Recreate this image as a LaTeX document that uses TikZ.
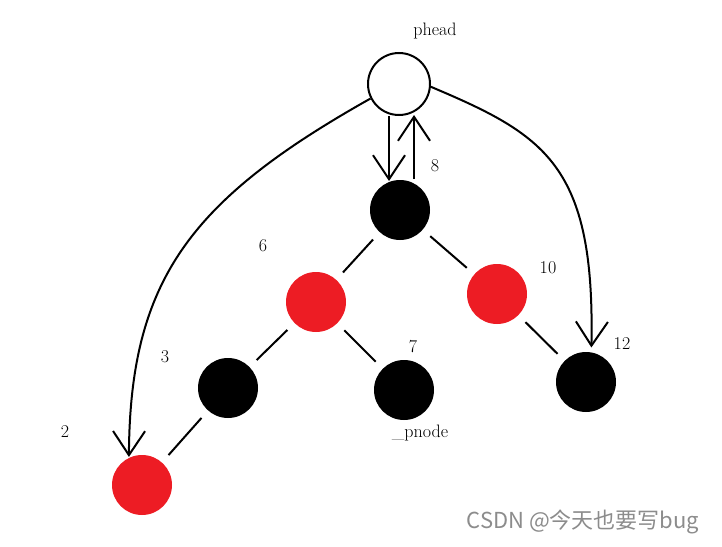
\documentclass[tikz,border=0pt]{standalone}
\usepackage{fontspec}
\newfontfamily\cjk{Noto Sans CJK SC}
\usetikzlibrary{arrows.meta}
\definecolor{paintred}{RGB}{237,28,36}

\begin{document}
\begin{tikzpicture}[x=1pt,y=-1pt,line width=2pt,
  blacknode/.style={circle,fill=black,minimum size=60pt,inner sep=0pt},
  rednode/.style={circle,fill=paintred,minimum size=60pt,inner sep=0pt},
  lbl/.style={font=\fontsize{18}{20}\selectfont},
  tree/.style={shorten <=9pt,shorten >=9pt},
  ptr/.style={-{Straight Barb[length=24pt,width=32pt,line width=2pt]}}]

\useasboundingbox (0,0) rectangle (722,546);

% Head node
\node[circle,draw,fill=white,minimum size=62pt,inner sep=0pt] (phead) at (399,84) {};
\node[lbl] (pheadlbl) at (435,31) {phead};

% Tree nodes
\node[blacknode] (n8) at (400,210) {};
\node[rednode] (n6) at (316,302) {};
\node[rednode] (n10) at (497,294) {};
\node[blacknode] (n3) at (228,388) {};
\node[blacknode] (n7) at (404,390) {};
\node[blacknode] (n12) at (586,382) {};
\node[rednode] (n2) at (142,485) {};

% Labels for keys
\node[lbl] (l8) at (435,166) {8};
\node[lbl] (l6) at (263,246) {6};
\node[lbl] (l10) at (548,268) {10};
\node[lbl] (l3) at (165,357) {3};
\node[lbl] (l7) at (413,347) {7};
\node[lbl] (l12) at (622,344) {12};
\node[lbl] (l2) at (65,432) {2};
\node[lbl] (pnode) at (420,433) {\_pnode};

% Tree edges
\draw[tree] (n8) -- (n6);
\draw[tree] (n8) -- (n10);
\draw[tree] (n6) -- (n3);
\draw[tree] (n6) -- (n7);
\draw[tree] (n3) -- (n2);
\draw[tree] (n10) -- (n12);

% Pointers from head
\draw[ptr] ([xshift=-10pt]phead.south) -- ([xshift=-11pt,yshift=-2pt]n8.north);
\draw[ptr] ([xshift=14pt]n8.north) -- ([xshift=15pt,yshift=1pt]phead.south);
\draw[ptr] (phead.207) .. controls (190,200) and (130,280) .. (n2.115);
\draw[ptr] (phead.-5) .. controls (545,135) and (595,165) .. ([yshift=4pt]n12.80);

% Watermark
\node[text=black!45,font=\cjk\fontsize{22}{24}\selectfont] (mark) at (583,522) {CSDN @今天也要写bug};

\end{tikzpicture}
\end{document}
